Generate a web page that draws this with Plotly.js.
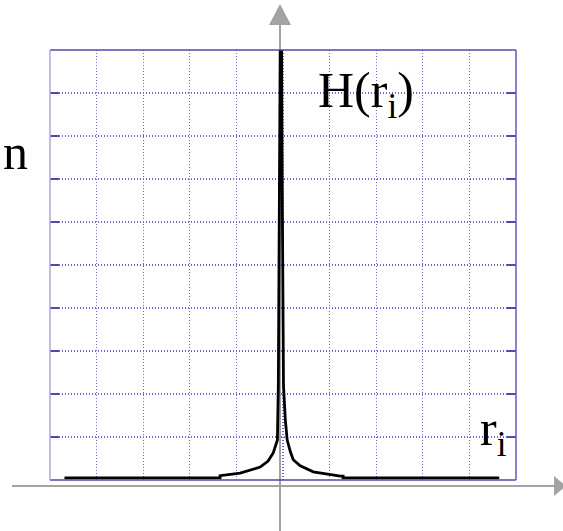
<!DOCTYPE html>
<html>
<head>
<meta charset="utf-8">
<script src="https://cdn.plot.ly/plotly-3.0.1.min.js"></script>
<style>html,body{margin:0;padding:0;background:#fff;}#chart{width:563px;height:531px;}</style>
</head>
<body>
<div id="chart"></div>
<script>
// Histogram-like distribution H(r_i) (x: -5..5, y: 0..10 grid units)
const rValues = [-4.69, -1.35, -1.35, -0.92, -0.49, -0.32, -0.21, -0.12, -0.10, -0.08, -0.06, -0.05, -0.03, -0.02, 0.01, 0.05, 0.09, 0.16, 0.22, 0.37, 0.65, 1.23, 1.29, 1.29, 4.64];
const hValues = [0.05, 0.05, 0.10, 0.16, 0.30, 0.44, 0.63, 0.93, 2.21, 7.5, 10.0, 10.0, 10.0, 7.5, 2.21, 1.40, 0.93, 0.65, 0.47, 0.33, 0.19, 0.09, 0.09, 0.05, 0.05];
const xRange = [-5, 5];
const yRange = [0, 10];

const W = 563, H = 531, L = 50, R = 47, T = 50, B = 51;
const pw = W - L - R, ph = H - T - B;
const px = x => (x - L) / pw;
const py = y => (H - B - y) / ph;

const gray = '#a3a3a3';
const blue = '#4b4bab';

const shapes = [
  // plot frame
  {type:'line', xref:'paper', yref:'paper', x0:0, x1:1, y0:1, y1:1, line:{color:blue, width:1.5}},
  {type:'line', xref:'paper', yref:'paper', x0:0, x1:1, y0:0, y1:0, line:{color:blue, width:1.5}},
  {type:'line', xref:'paper', yref:'paper', x0:1, x1:1, y0:0, y1:1, line:{color:'#5a5ac0', width:1.5}},
  {type:'line', xref:'paper', yref:'paper', x0:0, x1:0, y0:0, y1:1, line:{color:'#a9a9e2', width:1.5}},
  // gray axes with arrows
  {type:'line', xref:'paper', yref:'paper', x0:px(280), x1:px(280), y0:py(24), y1:py(531), line:{color:gray, width:2}, layer:'below'},
  {type:'path', xref:'paper', yref:'paper', path:`M ${px(280)} ${py(4)} L ${px(269)} ${py(25)} L ${px(291)} ${py(25)} Z`, fillcolor:gray, line:{width:0}},
  {type:'line', xref:'paper', yref:'paper', x0:px(12), x1:px(555), y0:py(486), y1:py(486), line:{color:gray, width:2}, layer:'below'},
  {type:'path', xref:'paper', yref:'paper', path:`M ${px(566)} ${py(486)} L ${px(554)} ${py(476)} L ${px(554)} ${py(496)} Z`, fillcolor:gray, line:{width:0}}
];

const serif = 'Liberation Serif, Times New Roman, serif';
const annotations = [
  {xref:'paper', yref:'paper', x:px(15), y:py(152), text:'n', showarrow:false, xanchor:'center', yanchor:'middle', font:{family:serif, size:50, color:'#000'}},
  {xref:'paper', yref:'paper', x:px(316), y:py(94), text:'H(r<sub>i</sub>)', showarrow:false, xanchor:'left', yanchor:'middle', font:{family:serif, size:50, color:'#000'}},
  {xref:'paper', yref:'paper', x:px(478), y:py(432), text:'r<sub>i</sub>', showarrow:false, xanchor:'left', yanchor:'middle', font:{family:serif, size:50, color:'#000'}}
];

const trace = {
  x: rValues, y: hValues, type:'scatter', mode:'lines',
  line:{color:'#000', width:2.8, shape:'linear'}, hoverinfo:'skip'
};

const axisCommon = {
  showgrid:true, gridcolor:'#6a6ac8', griddash:'1.2px,1.8px', gridwidth:1.2,
  zeroline:false, showline:false, showticklabels:false, dtick:1, fixedrange:true
};

const layout = {
  width:W, height:H,
  margin:{l:L, r:R, t:T, b:B, pad:0},
  paper_bgcolor:'#fff', plot_bgcolor:'#fff',
  showlegend:false,
  xaxis:Object.assign({}, axisCommon, {range:xRange, tick0:-5, ticks:''}),
  yaxis:Object.assign({}, axisCommon, {range:yRange, tick0:0, ticks:'inside', ticklen:9, tickwidth:2, tickcolor:blue, mirror:'ticks'}),
  shapes:shapes,
  annotations:annotations
};

Plotly.newPlot('chart', [trace], layout, {displayModeBar:false, staticPlot:true});
</script>
</body>
</html>
